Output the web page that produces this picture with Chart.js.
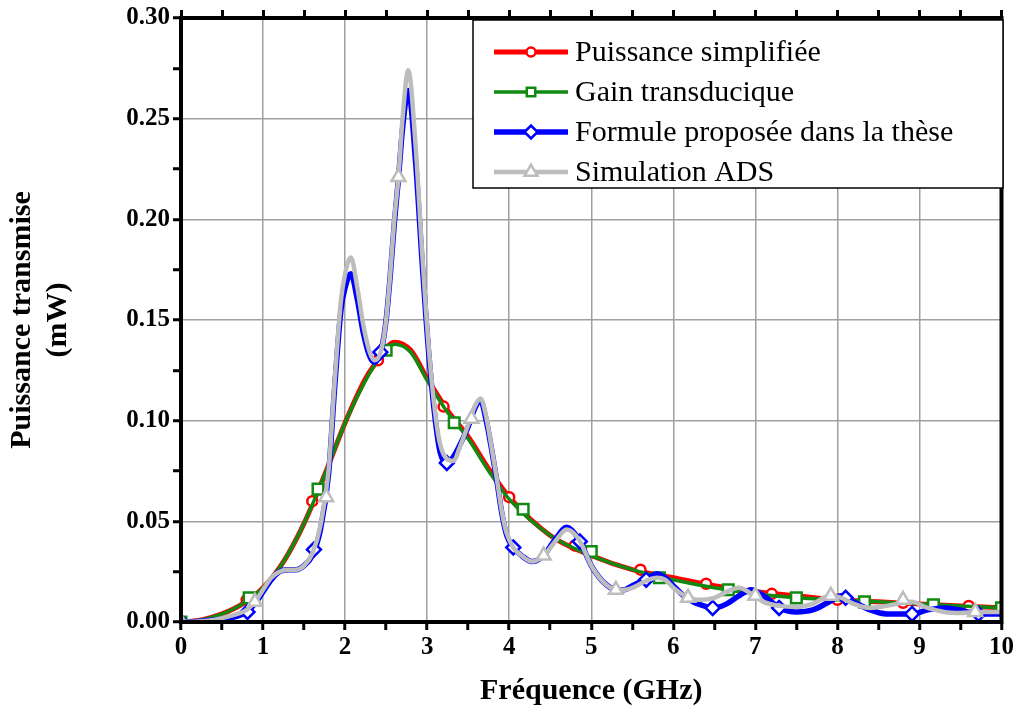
<!DOCTYPE html>
<html lang="fr">
<head>
    <meta charset="UTF-8">
    <title>Puissance transmise</title>
    <script src="https://cdn.jsdelivr.net/npm/chart.js"></script>
    <style>
        body {
            margin: 0;
            background: #fff;
        }
        #chart {
            display: block;
        }
    </style>
</head>
<body>
    <canvas id="chart" width="1017" height="715"></canvas>

    <script>
        // Courbes lisses (puissance simplifiée / gain transducique)
        const freqSmooth = [0, 0.25, 0.5, 0.75, 1, 1.25, 1.5, 1.75, 2, 2.25, 2.4, 2.6, 2.8, 3, 3.25, 3.5, 3.75, 4, 4.5, 5, 5.5, 6, 6.5, 7, 7.5, 8, 8.5, 9, 9.5, 10];
        const puissanceSimplifiee = [0, 0.001, 0.004, 0.009, 0.017, 0.030, 0.049, 0.073, 0.099, 0.121, 0.130, 0.139, 0.135, 0.121, 0.105, 0.092, 0.076, 0.062, 0.043, 0.033, 0.026, 0.022, 0.018, 0.015, 0.013, 0.011, 0.010, 0.009, 0.008, 0.007];
        const gainTransducique = [0, 0.001, 0.004, 0.009, 0.017, 0.030, 0.049, 0.073, 0.099, 0.120, 0.130, 0.138, 0.134, 0.120, 0.104, 0.091, 0.075, 0.061, 0.043, 0.033, 0.026, 0.021, 0.017, 0.014, 0.012, 0.011, 0.010, 0.009, 0.008, 0.007];

        // Courbes avec résonances (formule / ADS)
        const freqFine = [0, 0.2, 0.4, 0.6, 0.8, 0.9, 1.0, 1.1, 1.2, 1.3, 1.4, 1.5, 1.6, 1.7, 1.8, 1.87, 1.95, 2.0, 2.07, 2.15,
            2.22, 2.3, 2.36, 2.44, 2.5, 2.55, 2.6, 2.65, 2.7, 2.77, 2.86, 2.94, 3.02, 3.1, 3.16, 3.24, 3.32, 3.4, 3.5, 3.58,
            3.65, 3.72, 3.78, 3.85, 3.91, 3.97, 4.05, 4.15, 4.28, 4.42, 4.56, 4.7, 4.85, 5.0, 5.1, 5.2, 5.3, 5.4, 5.5, 5.6,
            5.7, 5.8, 5.9, 6.0, 6.1, 6.2, 6.3, 6.5, 6.65, 6.8, 6.95, 7.1, 7.3, 7.5, 7.7, 7.9, 8.05, 8.2, 8.4, 8.6,
            8.9, 9.1, 9.3, 9.5, 9.7, 10];
        const formuleThese = [0, 0.0003, 0.001, 0.002, 0.005, 0.009, 0.015, 0.021, 0.025, 0.026, 0.026, 0.028, 0.033, 0.046, 0.074, 0.115, 0.155, 0.166, 0.173, 0.160,
            0.144, 0.132, 0.129, 0.135, 0.150, 0.172, 0.198, 0.220, 0.245, 0.264, 0.228, 0.178, 0.133, 0.100, 0.084, 0.079, 0.082, 0.088, 0.097, 0.106,
            0.110, 0.100, 0.087, 0.070, 0.054, 0.043, 0.037, 0.033, 0.030, 0.033, 0.041, 0.047, 0.041, 0.028, 0.022, 0.018, 0.016, 0.016, 0.018, 0.020,
            0.022, 0.024, 0.022, 0.018, 0.014, 0.011, 0.009, 0.007, 0.009, 0.013, 0.016, 0.013, 0.007, 0.005, 0.006, 0.010, 0.013, 0.010, 0.006, 0.004,
            0.004, 0.006, 0.007, 0.006, 0.004, 0.004];
        const simulationADS = [0, 0.0003, 0.001, 0.003, 0.006, 0.010, 0.016, 0.022, 0.025, 0.026, 0.026, 0.028, 0.034, 0.048, 0.076, 0.118, 0.160, 0.173, 0.181, 0.166,
            0.148, 0.134, 0.130, 0.135, 0.150, 0.173, 0.200, 0.221, 0.250, 0.274, 0.236, 0.183, 0.136, 0.103, 0.088, 0.081, 0.080, 0.087, 0.098, 0.107,
            0.111, 0.102, 0.088, 0.071, 0.055, 0.044, 0.037, 0.033, 0.030, 0.033, 0.040, 0.046, 0.041, 0.028, 0.022, 0.018, 0.016, 0.016, 0.017, 0.019,
            0.021, 0.022, 0.021, 0.017, 0.014, 0.012, 0.011, 0.012, 0.015, 0.017, 0.014, 0.010, 0.008, 0.0075, 0.009, 0.013, 0.012, 0.009, 0.007, 0.008,
            0.010, 0.007, 0.005, 0.0045, 0.005, 0.005];

        // Symboles (un tous les ~0.8 GHz)
        const markFreqRed = [0, 0.8, 1.6, 2.4, 3.2, 4.0, 4.8, 5.6, 6.4, 7.2, 8.0, 8.8, 9.6];
        const markRed = [0, 0.011, 0.060, 0.130, 0.107, 0.062, 0.038, 0.026, 0.019, 0.014, 0.011, 0.0095, 0.008];
        const markFreqGreen = [0, 0.83, 1.67, 2.5, 3.33, 4.17, 5.0, 5.83, 6.67, 7.5, 8.33, 9.17, 10];
        const markGreen = [0, 0.012, 0.066, 0.135, 0.099, 0.056, 0.035, 0.022, 0.016, 0.012, 0.010, 0.0085, 0.007];
        const markFreqBlue = [0, 0.81, 1.62, 2.43, 3.24, 4.05, 4.86, 5.67, 6.48, 7.29, 8.1, 8.91, 9.72];
        const markBlue = [0, 0.005, 0.036, 0.134, 0.079, 0.037, 0.040, 0.021, 0.007, 0.007, 0.012, 0.004, 0.004];
        const markFreqGrey = [0, 0.9, 1.77, 2.65, 3.54, 4.42, 5.3, 6.18, 7.0, 7.92, 8.8, 9.68];
        const markGrey = [0, 0.010, 0.062, 0.221, 0.101, 0.033, 0.016, 0.012, 0.013, 0.013, 0.011, 0.005];

        const seriesNames = ['Puissance simplifiée', 'Gain transducique', 'Formule proposée dans la thèse', 'Simulation ADS'];
        const seriesColors = ['#ff0000', '#108a10', '#0000ff', '#bdbdbd'];
        const lineWidths = [5, 3.5, 5.5, 4.5];
        const pointStyles = ['circle', 'rect', 'rectRot', 'triangle'];
        const pointSizes = [5, 7.5, 7, 8];

        function pts(xs, ys) {
            return xs.map((x, i) => ({ x: x, y: ys[i] }));
        }

        function lineSet(i, xs, ys, order) {
            return {
                label: seriesNames[i],
                data: pts(xs, ys),
                borderColor: seriesColors[i],
                borderWidth: lineWidths[i],
                pointRadius: 0,
                cubicInterpolationMode: 'monotone',
                fill: false,
                order: order
            };
        }

        function markSet(i, xs, ys, order) {
            return {
                label: seriesNames[i] + ' (symboles)',
                data: pts(xs, ys),
                showLine: false,
                pointStyle: pointStyles[i],
                pointRadius: pointSizes[i],
                pointBorderWidth: 2.5,
                pointBorderColor: seriesColors[i],
                pointBackgroundColor: '#ffffff',
                order: order
            };
        }

        const isMajor = (v, step) => Math.abs(v / step - Math.round(v / step)) < 1e-6;

        // cadre noir autour de la zone de tracé
        const frame = {
            id: 'frame',
            afterDatasetsDraw(chart) {
                const a = chart.chartArea, ctx = chart.ctx;
                ctx.save();
                ctx.strokeStyle = '#000';
                ctx.lineWidth = 4;
                ctx.strokeRect(a.left, a.top, a.right - a.left, a.bottom - a.top);
                ctx.restore();
            }
        };

        // légende encadrée en haut à droite
        const boxLegend = {
            id: 'boxLegend',
            afterDraw(chart) {
                const ctx = chart.ctx;
                const bx = 473, by = 20, bw = 530, bh = 168;
                const rows = [52, 92, 132, 172];
                const legendSizes = [4.5, 6, 6.5, 7.5];
                ctx.save();
                ctx.fillStyle = '#fff';
                ctx.fillRect(bx, by, bw, bh);
                ctx.strokeStyle = '#000';
                ctx.lineWidth = 1.5;
                ctx.strokeRect(bx, by, bw, bh);
                rows.forEach((y, i) => {
                    ctx.strokeStyle = seriesColors[i];
                    ctx.lineWidth = lineWidths[i];
                    ctx.beginPath();
                    ctx.moveTo(494, y);
                    ctx.lineTo(568, y);
                    ctx.stroke();
                    ctx.fillStyle = '#fff';
                    ctx.lineWidth = 2.5;
                    Chart.helpers.drawPoint(ctx, {
                        pointStyle: pointStyles[i],
                        radius: legendSizes[i],
                        borderWidth: 2.5,
                        rotation: 0
                    }, 531, y);
                    ctx.fillStyle = '#000';
                    ctx.font = '30px "Liberation Serif"';
                    ctx.textBaseline = 'middle';
                    ctx.textAlign = 'left';
                    ctx.fillText(seriesNames[i], 575, y + 1);
                });
                ctx.restore();
            }
        };

        const tickFont = { family: 'Liberation Serif', weight: 'bold', size: 25 };
        const titleFont = { family: 'Liberation Serif', weight: 'bold', size: 30, lineHeight: 1.2 };

        new Chart(document.getElementById('chart'), {
            type: 'line',
            data: {
                datasets: [
                    lineSet(0, freqSmooth, puissanceSimplifiee, 8),
                    markSet(0, markFreqRed, markRed, 7),
                    lineSet(1, freqSmooth, gainTransducique, 6),
                    markSet(1, markFreqGreen, markGreen, 5),
                    lineSet(2, freqFine, formuleThese, 4),
                    markSet(2, markFreqBlue, markBlue, 3),
                    lineSet(3, freqFine, simulationADS, 2),
                    markSet(3, markFreqGrey, markGrey, 1)
                ]
            },
            options: {
                responsive: false,
                animation: false,
                events: [],
                layout: { padding: { left: 0, right: 10, top: 0, bottom: 0 } },
                plugins: {
                    legend: { display: false },
                    tooltip: { enabled: false }
                },
                scales: {
                    x: {
                        type: 'linear',
                        position: 'bottom',
                        min: 0,
                        max: 10,
                        afterFit(s) { s.height = 93; },
                        border: { display: false },
                        grid: {
                            color: c => isMajor(c.tick.value, 1) ? '#a0a0a0' : 'rgba(0,0,0,0)',
                            lineWidth: 1.5,
                            tickColor: '#000',
                            tickLength: 8,
                            tickWidth: 3
                        },
                        ticks: {
                            stepSize: 0.5,
                            autoSkip: false,
                            maxRotation: 0,
                            padding: 3,
                            color: '#000',
                            font: tickFont,
                            callback: v => isMajor(v, 1) ? String(Math.round(v)) : ''
                        },
                        title: {
                            display: true,
                            text: 'Fréquence (GHz)',
                            color: '#000',
                            font: titleFont,
                            padding: { top: 0, bottom: 6 }
                        }
                    },
                    xTop: {
                        type: 'linear',
                        position: 'top',
                        min: 0,
                        max: 10,
                        afterFit(s) { s.height = 18; },
                        border: { display: false },
                        grid: {
                            drawOnChartArea: false,
                            tickColor: '#000',
                            tickLength: 8,
                            tickWidth: 3
                        },
                        ticks: {
                            stepSize: 0.5,
                            autoSkip: false,
                            display: false
                        }
                    },
                    y: {
                        type: 'linear',
                        min: 0,
                        max: 0.30,
                        afterFit(s) { s.width = 181; },
                        border: { display: false },
                        grid: {
                            color: c => isMajor(c.tick.value, 0.05) ? '#a0a0a0' : 'rgba(0,0,0,0)',
                            lineWidth: 1.5,
                            tickColor: '#000',
                            tickLength: 8,
                            tickWidth: 3
                        },
                        ticks: {
                            stepSize: 0.025,
                            autoSkip: false,
                            padding: 3,
                            color: '#000',
                            font: tickFont,
                            callback: v => isMajor(v, 0.05) ? v.toFixed(2) : ''
                        },
                        title: {
                            display: true,
                            text: ['Puissance transmise', '(mW)'],
                            color: '#000',
                            font: titleFont,
                            padding: { top: 4, bottom: 0 }
                        }
                    }
                }
            },
            plugins: [frame, boxLegend]
        });
    </script>
</body>
</html>
